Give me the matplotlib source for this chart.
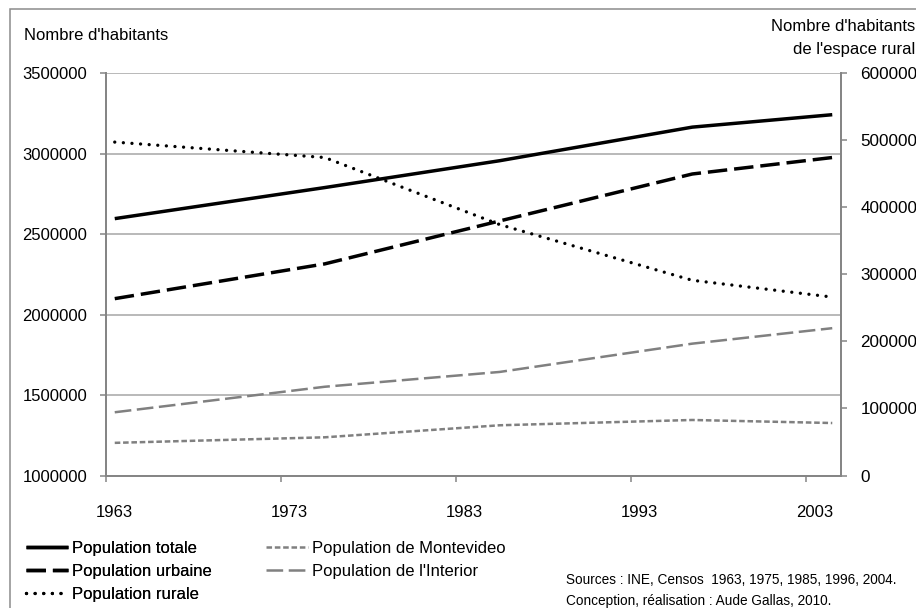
import numpy as np
import matplotlib
matplotlib.use('Agg')
import matplotlib.pyplot as plt
from matplotlib.patches import Rectangle

plt.rcParams['font.family'] = ['Liberation Sans', 'DejaVu Sans']
plt.rcParams['lines.scale_dashes'] = False

# census years and population (habitants)
years = [1963, 1975, 1985, 1996, 2004]
pop_totale = [2595510, 2788429, 2955241, 3163763, 3241003]
pop_urbaine = [2098500, 2314400, 2581200, 2872700, 2975000]
pop_rurale = [497000, 474000, 374000, 291000, 266000]   # right axis
pop_montevideo = [1202757, 1237227, 1311976, 1344839, 1325968]
pop_interior = [1392753, 1551202, 1643265, 1818924, 1915035]

year_labels = ['1963', '1973', '1983', '1993', '2003']
left_ticks = [1000000, 1500000, 2000000, 2500000, 3000000, 3500000]
right_ticks = [0, 100000, 200000, 300000, 400000, 500000, 600000]

W, H = 916, 608
GRAY = '#858585'
LINEGRAY = '#808080'

fig = plt.figure(figsize=(W / 100, H / 100), dpi=100)
fig.patches.append(Rectangle((10 / W, -0.1), 1.2, (H - 9) / H + 0.1,
                             transform=fig.transFigure, fill=False,
                             edgecolor='#8c8c8c', linewidth=1.1))

x0, x1, y0, y1 = 106, 841, 73, 475.5
ax = fig.add_axes([x0 / W, 1 - y1 / H, (x1 - x0) / W, (y1 - y0) / H])
ax2 = ax.twinx()

l_tot, = ax.plot(years, pop_totale, color='black', lw=2.5, solid_capstyle='butt',
                 label='Population totale')
l_urb, = ax.plot(years, pop_urbaine, color='black', lw=2.5, dashes=(14, 5),
                 dash_capstyle='butt', label='Population urbaine')
l_rur, = ax2.plot(years, pop_rurale, color='black', lw=2.4, dashes=(0.01, 6.2),
                  dash_capstyle='round', label='Population rurale')
l_mvd, = ax.plot(years, pop_montevideo, color=LINEGRAY, lw=1.8, dashes=(4, 2),
                 dash_capstyle='butt', label='Population de Montevideo')
l_int, = ax.plot(years, pop_interior, color=LINEGRAY, lw=1.8, dashes=(12, 4),
                 dash_capstyle='butt', label="Population de l'Interior")

ax.set_xlim(1962.5, 2004.5)
ax.set_ylim(1000000, 3500000)
ax2.set_ylim(0, 600000)
ax.set_yticks(left_ticks)
ax.set_yticklabels([str(v) for v in left_ticks])
ax2.set_yticks(right_ticks)
ax2.set_yticklabels([str(v) for v in right_ticks])

# year labels sit on the data years, tick marks half a year to the left
label_years = [int(y) for y in year_labels]
ax.set_xticks(label_years)
ax.set_xticklabels(year_labels)
ax.set_xticks([y - 0.5 for y in label_years], minor=True)
ax.tick_params(axis='x', which='major', length=0, pad=21, labelsize=12)
ax.tick_params(axis='x', which='minor', length=4, width=1.1, color=GRAY, direction='out')

ax.tick_params(axis='y', length=4.5, width=1.1, color=GRAY, pad=9, labelsize=12)
ax2.tick_params(axis='y', length=4.5, width=1.1, color=GRAY, pad=9.5, labelsize=12.3)

ax.grid(axis='y', color='#a6a6a6', linewidth=1.1)
ax.set_axisbelow(True)
for a in (ax, ax2):
    a.spines['top'].set_visible(False)
    for s in ('left', 'right', 'bottom'):
        a.spines[s].set_color(GRAY)
        a.spines[s].set_linewidth(1.3)
ax.patch.set_alpha(0)

fig.text(24 / W, 1 - 35 / H, "Nombre d'habitants", fontsize=12, va='center', ha='left')
fig.text(915 / W, 1 - 38 / H, "Nombre d'habitants\nde l'espace rural", fontsize=12,
         va='center', ha='right', multialignment='right', linespacing=1.72)

leg_kw = dict(loc='upper left', frameon=False, fontsize=12, handlelength=2.5,
              handletextpad=0.25, labelspacing=0.48, borderpad=0, borderaxespad=0)
leg1 = fig.legend(handles=[l_tot, l_urb, l_rur],
                  bbox_to_anchor=(26 / W, 1 - 541 / H), **leg_kw)
leg2 = fig.legend(handles=[l_mvd, l_int],
                  bbox_to_anchor=(266 / W, 1 - 541 / H), **leg_kw)
fig.add_artist(leg1)

fig.text(566 / W, 1 - 580 / H, "Sources : INE, Censos  1963, 1975, 1985, 1996, 2004.",
         fontsize=9.8, va='center', ha='left')
fig.text(566 / W, 1 - 601 / H, "Conception, réalisation : Aude Gallas, 2010.",
         fontsize=9.8, va='center', ha='left')

fig.savefig('out.png', dpi=100)
